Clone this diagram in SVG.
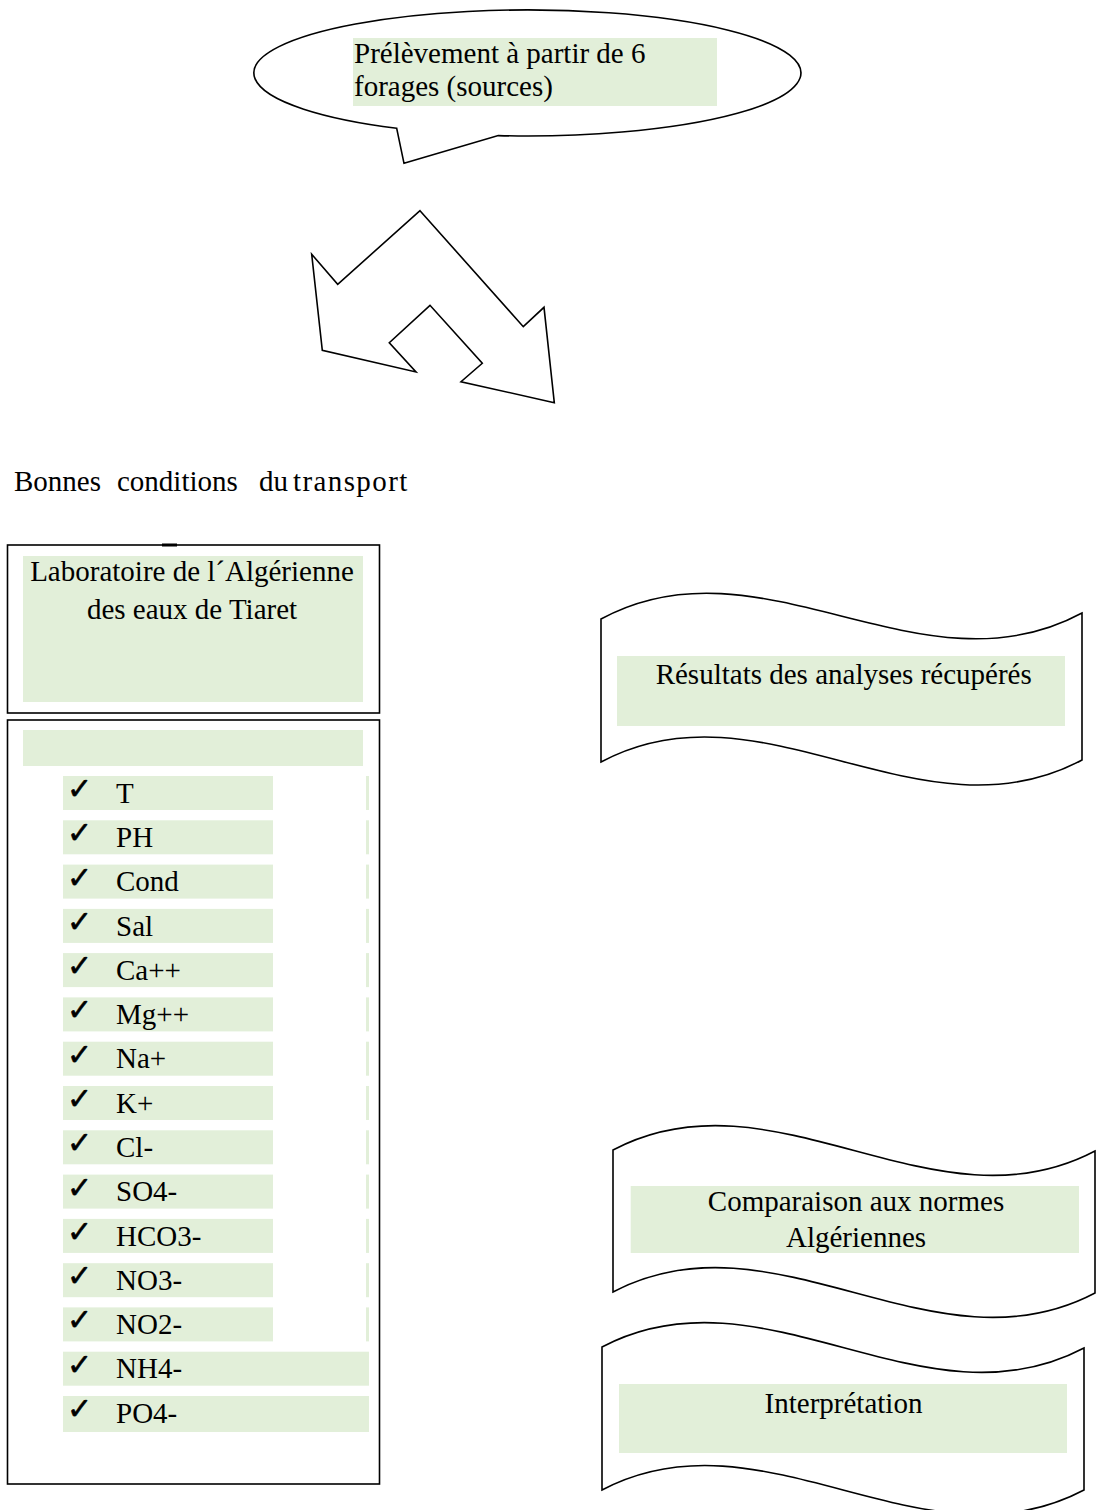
<svg xmlns="http://www.w3.org/2000/svg" width="1100" height="1510" viewBox="0 0 1100 1510">
<style>
.bg{fill:#ffffff}
.ol{fill:#ffffff;stroke:#000000;stroke-width:1.6;stroke-linejoin:miter}
.gr{fill:#e2efd9}
.t{font-family:"Liberation Serif","Times New Roman",serif;font-size:29px;fill:#000000}
.c{text-anchor:middle}
.ck{font-family:"DejaVu Sans",sans-serif;font-size:30px;fill:#000000;stroke:#000000;stroke-width:0.6}
.sl{fill:#e2efd9}
</style>
<rect class="bg" x="0" y="0" width="1100" height="1510"/>

<g id="callout">
<path class="ol" d="M396.7,128.3 L404,163.3 L498.3,135.6 A273.5,63 0 1 0 396.7,128.3 Z"/>
<rect class="gr" x="353" y="38" width="364" height="68"/>
<text class="t" x="354" y="63">Prélèvement à partir de 6</text>
<text class="t" x="354" y="96">forages (sources)</text>
</g>

<g id="connectors">
<polygon class="ol" points="420,210.7 523.3,326.7 544,307.3 554.3,402.7 461,381.7 482.3,363.3 430,305.3 389.3,342.7 416,372 322.3,350.3 311.7,254.3 337.7,284.3"/>
</g>

<g id="transport-label">
<text class="t" y="491"><tspan x="14">Bonnes</tspan><tspan x="117">conditions</tspan><tspan x="259">du</tspan><tspan x="293" letter-spacing="1.4">transport</tspan></text>
</g>

<g id="laboratoire">
<rect class="ol" x="7.5" y="545" width="372" height="168"/>
<rect x="162" y="543.5" width="15" height="3" fill="#000000"/>
<rect class="gr" x="23" y="556" width="340" height="146"/>
<text class="t c" x="192" y="581">Laboratoire de l´Algérienne</text>
<text class="t c" x="192" y="619">des eaux de Tiaret</text>
</g>

<g id="parametres">
<rect class="ol" x="7.5" y="720" width="372" height="764"/>
<rect class="gr" x="23" y="730" width="340" height="36"/>
<g id="row-T"><rect class="gr" x="63" y="776" width="210" height="34"/><rect class="sl" x="366" y="776" width="3" height="34"/><text class="ck" x="67" y="799">✓</text><text class="t" x="116" y="802.7">T</text></g>
<g id="row-PH"><rect class="gr" x="63" y="820.3" width="210" height="34"/><rect class="sl" x="366" y="820.3" width="3" height="34"/><text class="ck" x="67" y="843.3">✓</text><text class="t" x="116" y="847">PH</text></g>
<g id="row-Cond"><rect class="gr" x="63" y="864.6" width="210" height="34"/><rect class="sl" x="366" y="864.6" width="3" height="34"/><text class="ck" x="67" y="887.6">✓</text><text class="t" x="116" y="891.3">Cond</text></g>
<g id="row-Sal"><rect class="gr" x="63" y="908.9" width="210" height="34"/><rect class="sl" x="366" y="908.9" width="3" height="34"/><text class="ck" x="67" y="931.9">✓</text><text class="t" x="116" y="935.6">Sal</text></g>
<g id="row-Ca"><rect class="gr" x="63" y="953.1" width="210" height="34"/><rect class="sl" x="366" y="953.1" width="3" height="34"/><text class="ck" x="67" y="976.1">✓</text><text class="t" x="116" y="979.8">Ca++</text></g>
<g id="row-Mg"><rect class="gr" x="63" y="997.4" width="210" height="34"/><rect class="sl" x="366" y="997.4" width="3" height="34"/><text class="ck" x="67" y="1020.4">✓</text><text class="t" x="116" y="1024.1">Mg++</text></g>
<g id="row-Na"><rect class="gr" x="63" y="1041.7" width="210" height="34"/><rect class="sl" x="366" y="1041.7" width="3" height="34"/><text class="ck" x="67" y="1064.7">✓</text><text class="t" x="116" y="1068.4">Na+</text></g>
<g id="row-K"><rect class="gr" x="63" y="1086" width="210" height="34"/><rect class="sl" x="366" y="1086" width="3" height="34"/><text class="ck" x="67" y="1109">✓</text><text class="t" x="116" y="1112.7">K+</text></g>
<g id="row-Cl"><rect class="gr" x="63" y="1130.3" width="210" height="34"/><rect class="sl" x="366" y="1130.3" width="3" height="34"/><text class="ck" x="67" y="1153.3">✓</text><text class="t" x="116" y="1157">Cl-</text></g>
<g id="row-SO4"><rect class="gr" x="63" y="1174.6" width="210" height="34"/><rect class="sl" x="366" y="1174.6" width="3" height="34"/><text class="ck" x="67" y="1197.6">✓</text><text class="t" x="116" y="1201.3">SO4-</text></g>
<g id="row-HCO3"><rect class="gr" x="63" y="1218.9" width="210" height="34"/><rect class="sl" x="366" y="1218.9" width="3" height="34"/><text class="ck" x="67" y="1241.9">✓</text><text class="t" x="116" y="1245.6">HCO3-</text></g>
<g id="row-NO3"><rect class="gr" x="63" y="1263.2" width="210" height="34"/><rect class="sl" x="366" y="1263.2" width="3" height="34"/><text class="ck" x="67" y="1286.2">✓</text><text class="t" x="116" y="1289.9">NO3-</text></g>
<g id="row-NO2"><rect class="gr" x="63" y="1307.4" width="210" height="34"/><rect class="sl" x="366" y="1307.4" width="3" height="34"/><text class="ck" x="67" y="1330.4">✓</text><text class="t" x="116" y="1334.1">NO2-</text></g>
<g id="row-NH4"><rect class="gr" x="63" y="1351.7" width="306" height="34"/><text class="ck" x="67" y="1374.7">✓</text><text class="t" x="116" y="1378.4">NH4-</text></g>
<g id="row-PO4"><rect class="gr" x="63" y="1396" width="306" height="36"/><text class="ck" x="67" y="1419">✓</text><text class="t" x="116" y="1422.7">PO4-</text></g>
</g>

<g id="resultats">
<path class="ol" d="M601,619 C761,532 921,700 1082,613 L1082,760 C921,846 761,676 601,762 Z"/>
<rect class="gr" x="617" y="656" width="448" height="70"/>
<text class="t c" x="843.7" y="684">Résultats des analyses récupérés</text>
</g>

<g id="comparaison">
<path class="ol" d="M613,1150 C774,1065 934,1236 1095,1151 L1095,1293 C934,1378 774,1207 613,1292 Z"/>
<rect class="gr" x="630.7" y="1186" width="448.3" height="67"/>
<text class="t c" x="856" y="1210.7">Comparaison aux normes</text>
<text class="t c" x="856" y="1246.7">Algériennes</text>
</g>

<g id="interpretation">
<path class="ol" d="M602,1347 C763,1262 923,1433 1084,1348 L1084,1490 C923,1575 763,1405 602,1490 Z"/>
<rect class="gr" x="619" y="1384" width="448" height="69"/>
<text class="t c" x="843.5" y="1413">Interprétation</text>
</g>
</svg>
